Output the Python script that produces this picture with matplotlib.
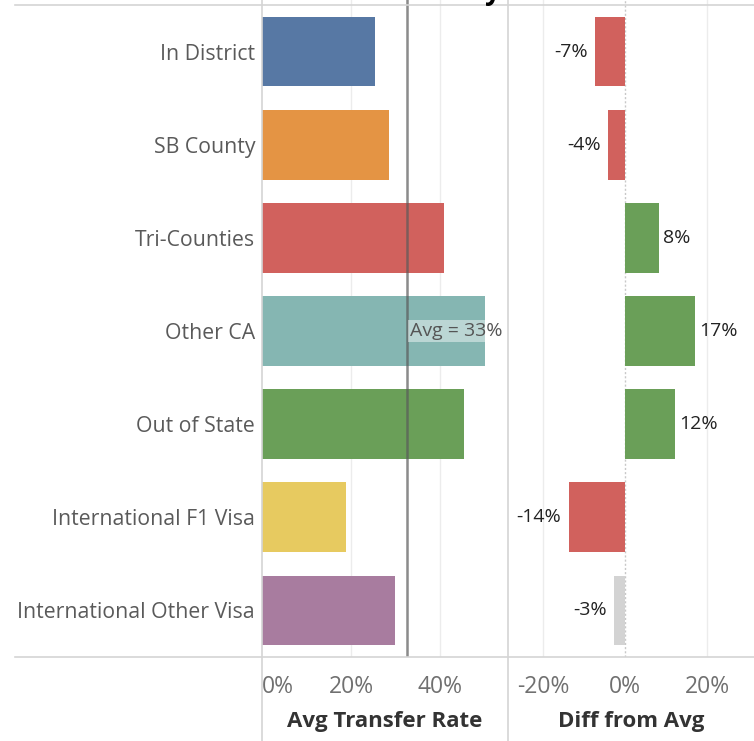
import matplotlib
matplotlib.use("Agg")
import matplotlib.pyplot as plt
from matplotlib.lines import Line2D

plt.rcParams["font.family"] = ["Open Sans", "DejaVu Sans"]

categories = ["In District", "SB County", "Tri-Counties", "Other CA",
              "Out of State", "International F1 Visa", "International Other Visa"]
transfer_rate = [25.4, 28.5, 41.0, 50.2, 45.3, 18.9, 29.9]
diff_from_avg = [-7.3, -4.1, 8.3, 17.1, 12.2, -13.7, -2.7]
diff_labels = ["-7%", "-4%", "8%", "17%", "12%", "-14%", "-3%"]
avg_rate = 32.6
avg_label = "Avg = 33%"
left_ticks = [0, 20, 40]
right_ticks = [-20, 0, 20]

bar_colors = ["#5778a4", "#e49444", "#d1615d", "#85b6b2",
              "#6a9f58", "#e7ca60", "#a87c9f"]
neg_color, pos_color, small_color = "#d1615d", "#6a9f58", "#d3d3d3"

W, H = 754, 741
fig = plt.figure(figsize=(W / 100, H / 100), dpi=100)


def px_axes(x0, x1, y0, y1):
    return fig.add_axes([x0 / W, 1 - y1 / H, (x1 - x0) / W, (y1 - y0) / H])


row_h = (657 - 5) / 7
ylim = (6.5, -0.5 - 5 / row_h)

axl = px_axes(262, 508, 0, 657)
axr = px_axes(508, 754, 0, 657)

# left panel
axl.set_xlim(0, 246 / 89 * 20)
axl.set_ylim(*ylim)
for t in left_ticks[1:]:
    axl.axvline(t, color="#ececec", lw=1, zorder=0)
ypos = list(range(len(categories)))
axl.barh(ypos, transfer_rate, height=0.75, color=bar_colors, zorder=2)
axl.axvline(avg_rate, color="#5a5a5a", lw=1.8, alpha=0.7, zorder=3)
axl.text(avg_rate + 0.55, 3, avg_label, ha="left", va="center", fontsize=14,
         color="#555555", zorder=4,
         bbox=dict(boxstyle="square,pad=0.1", fc="white", ec="none", alpha=0.45))
axl.set_yticks(ypos)
axl.set_yticklabels(categories, fontsize=15.3, color="#5a5a5a")
axl.tick_params(axis="y", length=0, pad=5)

# right panel
axr.set_xlim(-20 + (508 - 543) / 82 * 20, (754 - 625) / 82 * 20)
axr.set_ylim(*ylim)
for t in right_ticks:
    if t == 0:
        axr.axvline(0, color="#c8c8c8", lw=1, ls=(0, (1.5, 1.5)), zorder=1)
    else:
        axr.axvline(t, color="#ececec", lw=1, zorder=0)
cols = []
for d in diff_from_avg:
    if abs(d) < 3:
        cols.append(small_color)
    elif d < 0:
        cols.append(neg_color)
    else:
        cols.append(pos_color)
axr.barh(ypos, diff_from_avg, height=0.75, color=cols, zorder=2)
for y, d, lab in zip(ypos, diff_from_avg, diff_labels):
    if d < 0:
        axr.text(d - 1.8, y, lab, ha="right", va="center", fontsize=14, color="#222222")
    else:
        axr.text(d + 1.0, y, lab, ha="left", va="center", fontsize=14, color="#222222")
axr.set_yticks([])

for ax, ticks in ((axl, left_ticks), (axr, right_ticks)):
    ax.set_xticks(ticks)
    ax.set_xticklabels([f"{t}%" for t in ticks], fontsize=16.5, color="#707070")
    ax.tick_params(axis="x", length=0, pad=13)
    for s in ax.spines.values():
        s.set_visible(False)
    ax.set_facecolor("none")
axl.get_xticklabels()[0].set_horizontalalignment("left")

fig.text(385 / W, 1 - 722 / H, "Avg Transfer Rate", ha="center", va="center",
         fontsize=16, fontweight="bold", color="#333333")
fig.text(631 / W, 1 - 722 / H, "Diff from Avg", ha="center", va="center",
         fontsize=16, fontweight="bold", color="#333333")

# frame lines
for yy in (5, 657):
    fig.add_artist(Line2D([15 / W, 1], [1 - yy / H] * 2, color="#d4d4d4", lw=1.2))
for xx in (262, 508):
    fig.add_artist(Line2D([xx / W] * 2, [0, 1], color="#d4d4d4", lw=1.2, zorder=1))

# clipped title above the visible area
fig.text(493 / W, 1 + 1 / H, "y", ha="center", va="baseline", fontsize=20,
         fontweight="bold", color="black")

fig.savefig("out.png", dpi=100)
